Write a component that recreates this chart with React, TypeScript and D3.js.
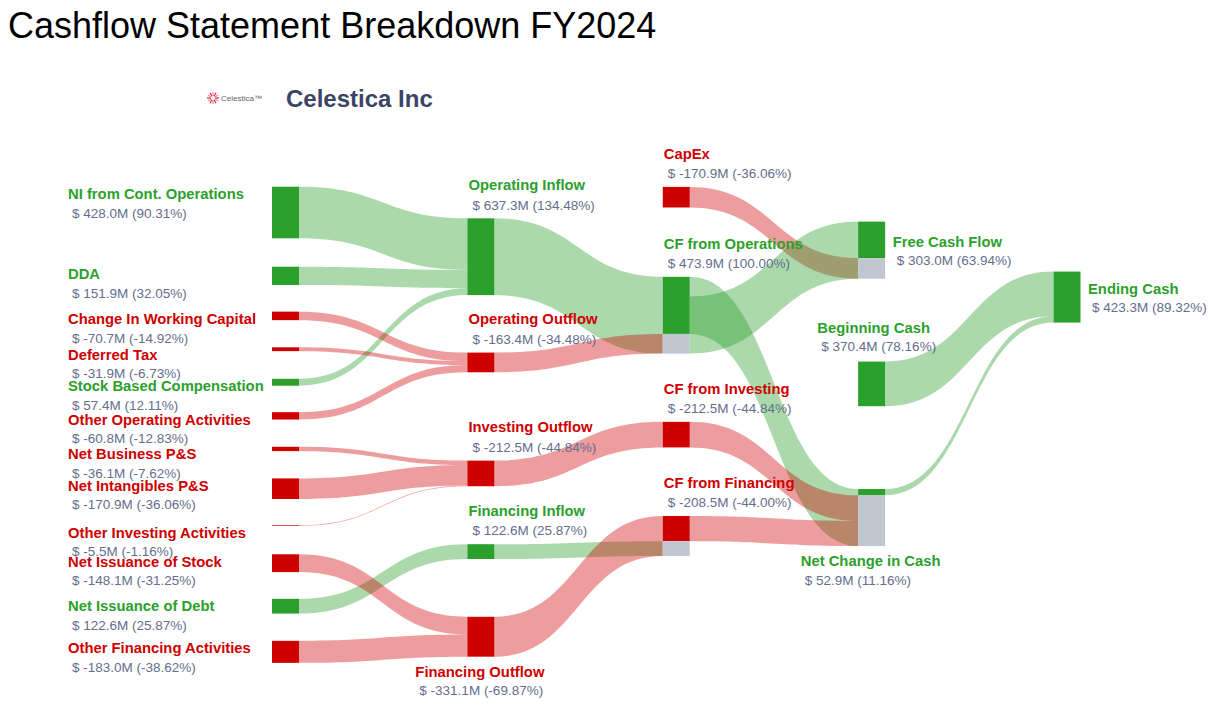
import React, { useEffect, useRef } from 'react';
import * as d3 from 'd3';

// ---- data ----
const nodeNames = [
    "NI from Cont. Operations", "DDA", "Change In Working Capital", "Deferred Tax",
    "Stock Based Compensation", "Other Operating Activities", "Net Business P&S",
    "Net Intangibles P&S", "Other Investing Activities", "Net Issuance of Stock",
    "Net Issuance of Debt", "Other Financing Activities",
    "Operating Inflow", "Operating Outflow", "Investing Outflow", "Financing Inflow", "Financing Outflow",
    "CapEx", "CF from Operations", "CF from Investing", "CF from Financing",
    "Free Cash Flow", "Beginning Cash", "Net Change in Cash",
    "Ending Cash"
];
const nodeValues = [
    428.0, 151.9, -70.7, -31.9, 57.4, -60.8, -36.1, -170.9, -5.5, -148.1, 122.6, -183.0,
    637.3, -163.4, -212.5, 122.6, -331.1,
    -170.9, 473.9, -212.5, -208.5,
    303.0, 370.4, 52.9,
    423.3
];
const linkSource = [0, 1, 4, 2, 3, 5, 6, 7, 8, 10, 9, 11, 12, 13, 14, 15, 16, 17, 18, 18, 19, 20, 22, 23];
const linkTarget = [12, 12, 12, 13, 13, 13, 14, 14, 14, 15, 16, 16, 18, 18, 19, 20, 20, 21, 23, 21, 23, 23, 24, 24];
const linkValues = [428.0, 151.9, 57.4, 70.7, 31.9, 60.8, 36.1, 170.9, 5.5, 122.6, 148.1, 183.0,
    637.3, 163.4, 212.5, 122.6, 331.1, 170.9, 473.9, 473.9, 212.5, 208.5, 370.4, 52.9];

// ---- layout (plotly-style node.x column / node.y centre fraction) ----
const nodeX = [0, 0, 0, 0, 0, 0, 0, 0, 0, 0, 0, 0, 1, 1, 1, 1, 1, 2, 2, 2, 2, 3, 3, 3, 4];
const nodeY = [
    0.1295, 0.2426, 0.3141, 0.3736, 0.4326, 0.4926, 0.5517, 0.6227, 0.6886, 0.7557, 0.8325, 0.9140,
    0.2084, 0.3972, 0.5954, 0.7350, 0.8870,
    0.1021, 0.3129, 0.5261, 0.7071,
    0.1967, 0.4355, 0.6742,
    0.2805
];
const labelSide = [
    'left', 'left', 'left', 'left', 'left', 'left', 'left', 'left', 'left', 'left', 'left', 'left',
    'top', 'top', 'top', 'top', 'bottom',
    'top', 'top', 'top', 'top',
    'right', 'topc', 'bottom',
    'right'
];

const GREEN = "#2ca02c";
const RED = "#cf0000";
const GREEN_LINK = "rgba(44,160,44,0.4)";
const RED_LINK = "rgba(210,10,10,0.4)";
const GRAY = "#c0c7d1";
const VALUE_COLOR = "#646e8d";
const FONT = "'Liberation Sans', Arial, Helvetica, sans-serif";

const App: React.FC = () => {
    const svgRef = useRef<SVGSVGElement>(null);
    const width = 1212;
    const height = 710;

    useEffect(() => {
        if (!svgRef.current) return;
        const svg = d3.select(svgRef.current);
        svg.selectAll("*").remove();

        const nodeW = 27;
        const x = d3.scaleLinear().domain([0, 4]).range([272, 1053.5]);
        const y = d3.scaleLinear().domain([0, 1]).range([140, 700]);
        const v = d3.scaleLinear().domain([0, 637.3]).range([0, 76.8]);

        const n = nodeNames.length;
        const sign = nodeValues.map(d => (d >= 0 ? 1 : -1));
        const net = nodeValues.map(d => Math.abs(d));

        // pass 1: node totals (net part + offset part)
        const inSame = new Array(n).fill(0);
        const inOpp = net.slice();
        const tgtOff: number[] = [];
        linkValues.forEach((val, i) => {
            const s = linkSource[i], t = linkTarget[i];
            if (sign[s] === sign[t]) { tgtOff.push(inSame[t]); inSame[t] += val; }
            else { tgtOff.push(inOpp[t]); inOpp[t] += val; }
        });
        const total = net.map((d, i) => Math.max(d, inSame[i], inOpp[i]));

        const nodeTop = total.map((d, i) => y(nodeY[i]) - v(d) / 2);
        const nodeLeft = nodeX.map(c => x(c));

        // pass 2: source offsets
        const outCur = new Array(n).fill(0);
        const srcOff: number[] = linkValues.map((val, i) => {
            const s = linkSource[i];
            let off = outCur[s];
            if (off + val > total[s] + 1e-6) off = total[s] - val;
            outCur[s] += val;
            return off;
        });

        const band = (x0: number, y0: number, x1: number, y1: number, h: number) => {
            const xm = (x0 + x1) / 2;
            const p = d3.path();
            p.moveTo(x0, y0);
            p.bezierCurveTo(xm, y0, xm, y1, x1, y1);
            p.lineTo(x1, y1 + h);
            p.bezierCurveTo(xm, y1 + h, xm, y0 + h, x0, y0 + h);
            p.closePath();
            return p.toString();
        };

        // title
        svg.append("text")
            .attr("x", 8).attr("y", 38)
            .style("font-family", FONT).style("font-size", "36px")
            .style("fill", "#000")
            .text("Cashflow Statement Breakdown FY2024");

        // logo
        const logo = svg.append("g").attr("transform", "translate(213,98)");
        d3.range(12).forEach(k => {
            const a = (k / 12) * Math.PI * 2;
            logo.append("line")
                .attr("x1", Math.cos(a) * 2).attr("y1", Math.sin(a) * 2)
                .attr("x2", Math.cos(a) * 6).attr("y2", Math.sin(a) * 6)
                .style("stroke", k % 2 ? "#f08a9a" : "#e0243c").style("stroke-width", 1.2);
        });
        svg.append("text")
            .attr("x", 221).attr("y", 101)
            .style("font-family", FONT).style("font-size", "8px").style("fill", "#666")
            .text("Celestica\u2122");

        svg.append("text")
            .attr("x", 286).attr("y", 107)
            .style("font-family", FONT).style("font-size", "24px").style("font-weight", "bold")
            .style("fill", "#3b4466")
            .text("Celestica Inc");

        // links
        const gLinks = svg.append("g");
        linkValues.forEach((val, i) => {
            const s = linkSource[i], t = linkTarget[i];
            gLinks.append("path")
                .attr("d", band(
                    nodeLeft[s] + nodeW, nodeTop[s] + v(srcOff[i]),
                    nodeLeft[t], nodeTop[t] + v(tgtOff[i]),
                    v(val)))
                .style("fill", sign[s] > 0 ? GREEN_LINK : RED_LINK);
        });

        // nodes
        const gNodes = svg.append("g");
        nodeNames.forEach((_, i) => {
            gNodes.append("rect")
                .attr("x", nodeLeft[i]).attr("y", nodeTop[i])
                .attr("width", nodeW).attr("height", v(net[i]))
                .style("fill", sign[i] > 0 ? GREEN : RED);
            if (total[i] - net[i] > 1e-6) {
                gNodes.append("rect")
                    .attr("x", nodeLeft[i]).attr("y", nodeTop[i] + v(net[i]))
                    .attr("width", nodeW).attr("height", v(total[i] - net[i]))
                    .style("fill", GRAY);
            }
        });

        // labels: bold name, value line indented a few px under the name's start
        const base = nodeValues[nodeNames.indexOf("CF from Operations")];
        const gLabels = svg.append("g");
        nodeNames.forEach((name, i) => {
            const val = nodeValues[i];
            const valueText = `$ ${val.toFixed(1)}M (${(val / base * 100).toFixed(2)}%)`;
            const top = nodeTop[i];
            const bottom = top + v(total[i]);
            const mid = (top + bottom) / 2;
            const left = nodeLeft[i];
            const side = labelSide[i];

            const nameEl = gLabels.append("text")
                .style("font-family", FONT).style("font-size", "14.8px").style("font-weight", "bold")
                .style("fill", sign[i] > 0 ? GREEN : RED)
                .text(name);
            const w = (nameEl.node() as SVGTextElement).getComputedTextLength();

            let nx = 0, ny = 0, vy = 0;
            if (side === 'left') { nx = 68; ny = top + 12.5; vy = top + 31; }
            else if (side === 'top') { nx = left + 1; ny = top - 28.3; vy = top - 8.8; }
            else if (side === 'topc') { nx = left + nodeW / 2 - w / 2 + 2; ny = top - 28.4; vy = top - 10.3; }
            else if (side === 'bottom') { nx = left + nodeW / 2 - w / 2 - 1; ny = bottom + 20; vy = bottom + 38.8; }
            else { nx = left + nodeW + 7.5; ny = mid - 3.5; vy = mid + 15; }

            nameEl.attr("x", nx).attr("y", ny);
            gLabels.append("text")
                .attr("x", nx + 4).attr("y", vy)
                .style("font-family", FONT).style("font-size", "13.5px")
                .style("fill", VALUE_COLOR)
                .text(valueText);
        });
    }, []);

    return (
        <svg
            ref={svgRef}
            width={width}
            height={height}
            style={{ position: 'absolute', left: 0, top: 0, background: '#fff' }}
        />
    );
};

export default App;
